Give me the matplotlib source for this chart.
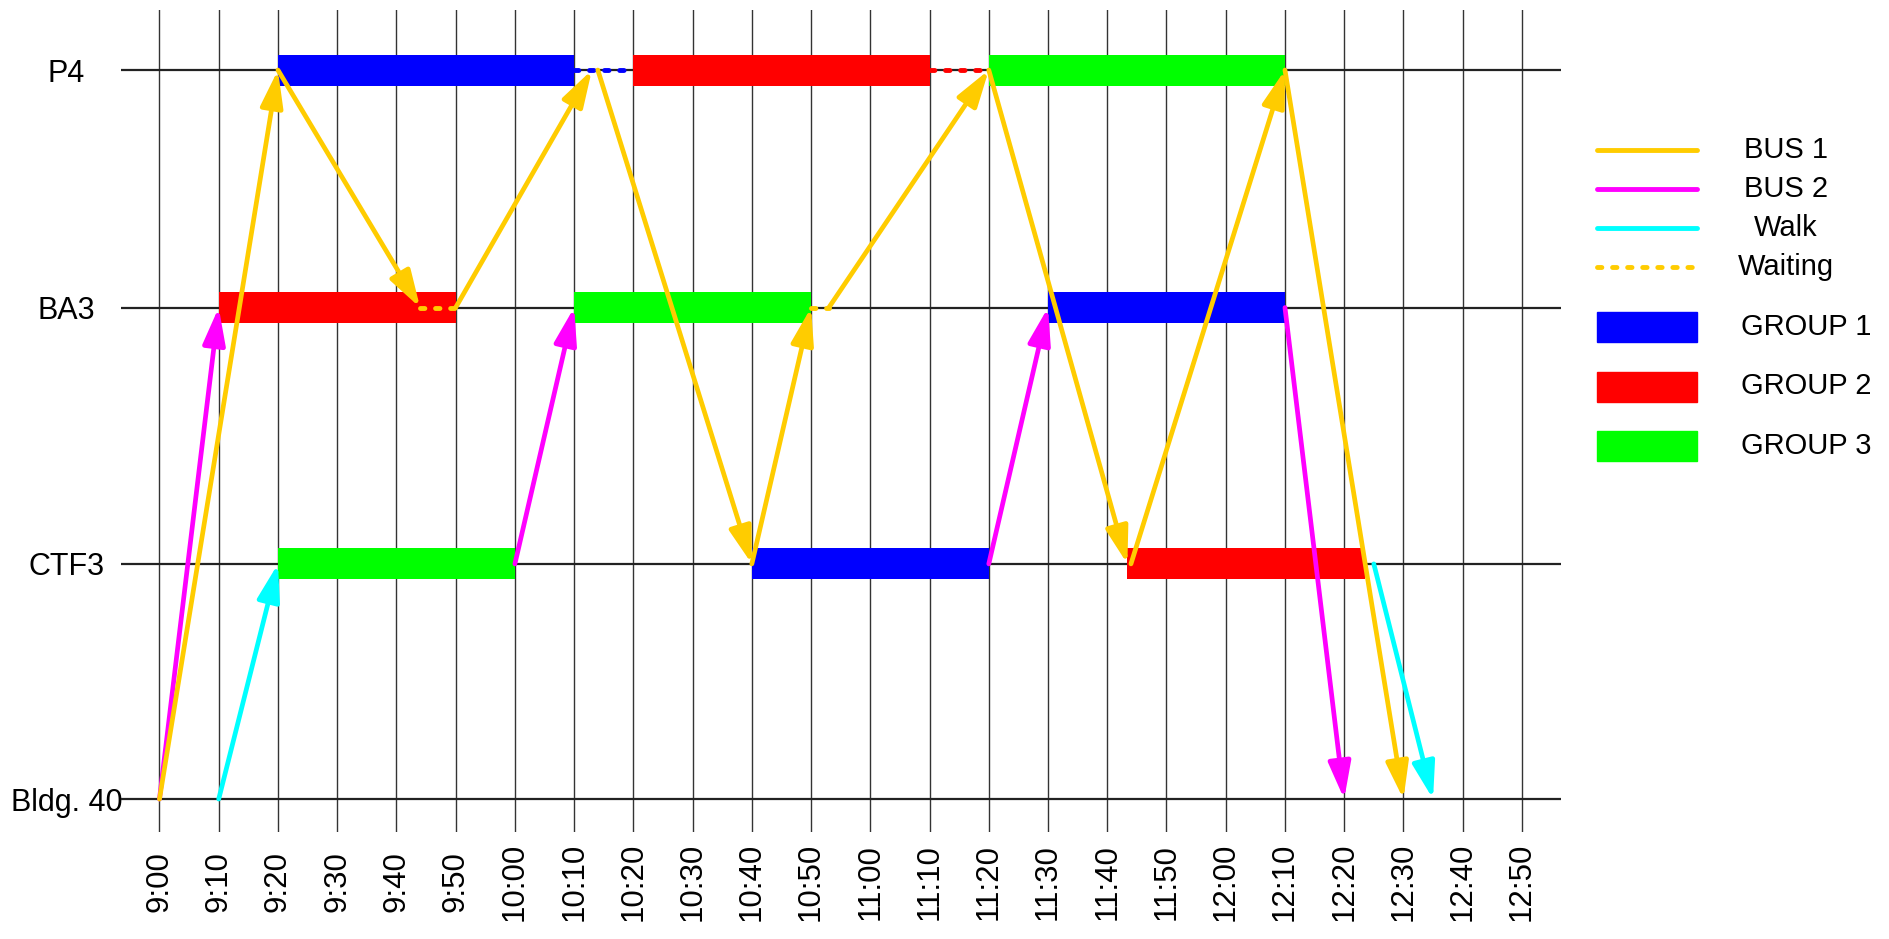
"""Shuttle / group rotation timetable between P4, BA3, CTF3 and Bldg. 40."""
import matplotlib
matplotlib.use("Agg")
import matplotlib.pyplot as plt
from matplotlib.patches import Rectangle

plt.rcParams["font.family"] = ["Liberation Sans", "DejaVu Sans"]

# ---- data -----------------------------------------------------------------
LEVELS  = ["Bldg. 40", "CTF3", "BA3", "P4"]
LEVEL_Y = [0.0, 1.0, 2.09, 3.1]

TIME_LABELS = ["9:00", "9:10", "9:20", "9:30", "9:40", "9:50",
               "10:00", "10:10", "10:20", "10:30", "10:40", "10:50",
               "11:00", "11:10", "11:20", "11:30", "11:40", "11:50",
               "12:00", "12:10", "12:20", "12:30", "12:40", "12:50"]

# (place, start, end)
GROUP1_SESSIONS = [("P4", "9:20", "10:10"), ("CTF3", "10:40", "11:20"), ("BA3", "11:30", "12:10")]
GROUP2_SESSIONS = [("BA3", "9:10", "9:50"), ("P4", "10:20", "11:10"), ("CTF3", "11:43.3", "12:23.5")]
GROUP3_SESSIONS = [("CTF3", "9:20", "10:00"), ("BA3", "10:10", "10:50"), ("P4", "11:20", "12:10")]

GROUP1_WAITS = [("P4", "10:10", "10:20")]
GROUP2_WAITS = [("P4", "11:10", "11:20")]

# (from, depart, to, arrive)
BUS1_LEGS = [("Bldg. 40", "9:00", "P4", "9:20"),
             ("P4", "9:20", "BA3", "9:44"),
             ("BA3", "9:50", "P4", "10:13"),
             ("P4", "10:14", "CTF3", "10:40"),
             ("CTF3", "10:40", "BA3", "10:50"),
             ("BA3", "10:53", "P4", "11:20"),
             ("P4", "11:20", "CTF3", "11:43.4"),
             ("CTF3", "11:44", "P4", "12:10"),
             ("P4", "12:10", "Bldg. 40", "12:30")]
BUS1_WAITS = [("BA3", "9:44", "9:50"), ("BA3", "10:50", "10:53")]

BUS2_LEGS = [("Bldg. 40", "9:00", "BA3", "9:10"),
             ("CTF3", "10:00", "BA3", "10:10"),
             ("CTF3", "11:20", "BA3", "11:30"),
             ("BA3", "12:10", "Bldg. 40", "12:20")]

WALK_LEGS = [("Bldg. 40", "9:10", "CTF3", "9:20"),
             ("CTF3", "12:25", "Bldg. 40", "12:35")]

YELLOW, MAGENTA, CYAN = "#FFCC00", "#FF00FF", "#00FFFF"
BLUE, RED, GREEN = "#0000FF", "#FF0000", "#00FF00"

WAIT_STYLE = (0, (0.9, 2.2))


def minutes(t):
    h, m = t.split(":")
    return (int(h) - 9) * 60 + float(m)


def level(name):
    return LEVEL_Y[LEVELS.index(name)]


fig = plt.figure(figsize=(18.9, 9.39), dpi=100)
ax = fig.add_axes([120.5 / 1890, 107 / 939, 1440.5 / 1890, 822.4 / 939])

# grid: vertical time lines + horizontal place lines
ticks = [minutes(t) for t in TIME_LABELS]
ax.set_xticks(ticks, TIME_LABELS, rotation=90, fontsize=22.5, va="center")
ax.set_yticks(LEVEL_Y, LEVELS, fontsize=22)
ax.tick_params(axis="x", length=0, pad=36)
ax.tick_params(axis="y", length=0, pad=39)
for lbl in ax.get_yticklabels():
    lbl.set_horizontalalignment("center")
ax.grid(axis="x", color="#333333", lw=1.0, zorder=0)
for y in LEVEL_Y:
    ax.axhline(y, color="#222222", lw=1.6, zorder=1)
ax.set_axisbelow(True)
for s in ax.spines.values():
    s.set_visible(False)

ax.set_xlim(-6.58, 236.6)
ax.set_ylim(-0.14, 3.357)

# group sessions
for sessions, color in [(GROUP1_SESSIONS, BLUE), (GROUP2_SESSIONS, RED), (GROUP3_SESSIONS, GREEN)]:
    for place, t0, t1 in sessions:
        ax.barh(level(place), minutes(t1) - minutes(t0), left=minutes(t0),
                height=0.132, color=color, zorder=2)

# waiting
for waits, color in [(GROUP1_WAITS, BLUE), (GROUP2_WAITS, RED), (BUS1_WAITS, YELLOW)]:
    for place, t0, t1 in waits:
        ax.plot([minutes(t0), minutes(t1)], [level(place)] * 2, color=color,
                lw=3.5, ls=WAIT_STYLE, dash_capstyle="round", zorder=3)

# moves
for legs, color in [(WALK_LEGS, CYAN), (BUS2_LEGS, MAGENTA), (BUS1_LEGS, YELLOW)]:
    for p0, t0, p1, t1 in legs:
        ax.annotate("", xy=(minutes(t1), level(p1)), xytext=(minutes(t0), level(p0)),
                    zorder=4,
                    arrowprops=dict(arrowstyle="-|>,head_length=0.75,head_width=0.23",
                                    mutation_scale=30, color=color, lw=3.4,
                                    shrinkA=0, shrinkB=0, joinstyle="round",
                                    capstyle="round"))

# legend, drawn by hand in pixel space
lg = fig.add_axes([0, 0, 1, 1], zorder=-1)
lg.set_xlim(0, 1890)
lg.set_ylim(939, 0)
lg.axis("off")

line_entries = [("BUS 1", YELLOW, "-"), ("BUS 2", MAGENTA, "-"),
                ("Walk", CYAN, "-"), ("Waiting", YELLOW, WAIT_STYLE)]
for i, (name, color, style) in enumerate(line_entries):
    y = 150 + i * 39
    lg.plot([1597, 1697], [y, y], color=color, lw=3.5, ls=style,
            solid_capstyle="round", dash_capstyle="round")
    lg.text(1786, y, name, fontsize=21, ha="center", va="center")

patch_entries = [("GROUP 1", BLUE), ("GROUP 2", RED), ("GROUP 3", GREEN)]
for i, (name, color) in enumerate(patch_entries):
    y = 327 + i * 59.5
    lg.add_patch(Rectangle((1597, y - 15), 100, 30, color=color))
    lg.text(1806, y, name, fontsize=21, ha="center", va="center")

fig.savefig("out.png", dpi=100)
